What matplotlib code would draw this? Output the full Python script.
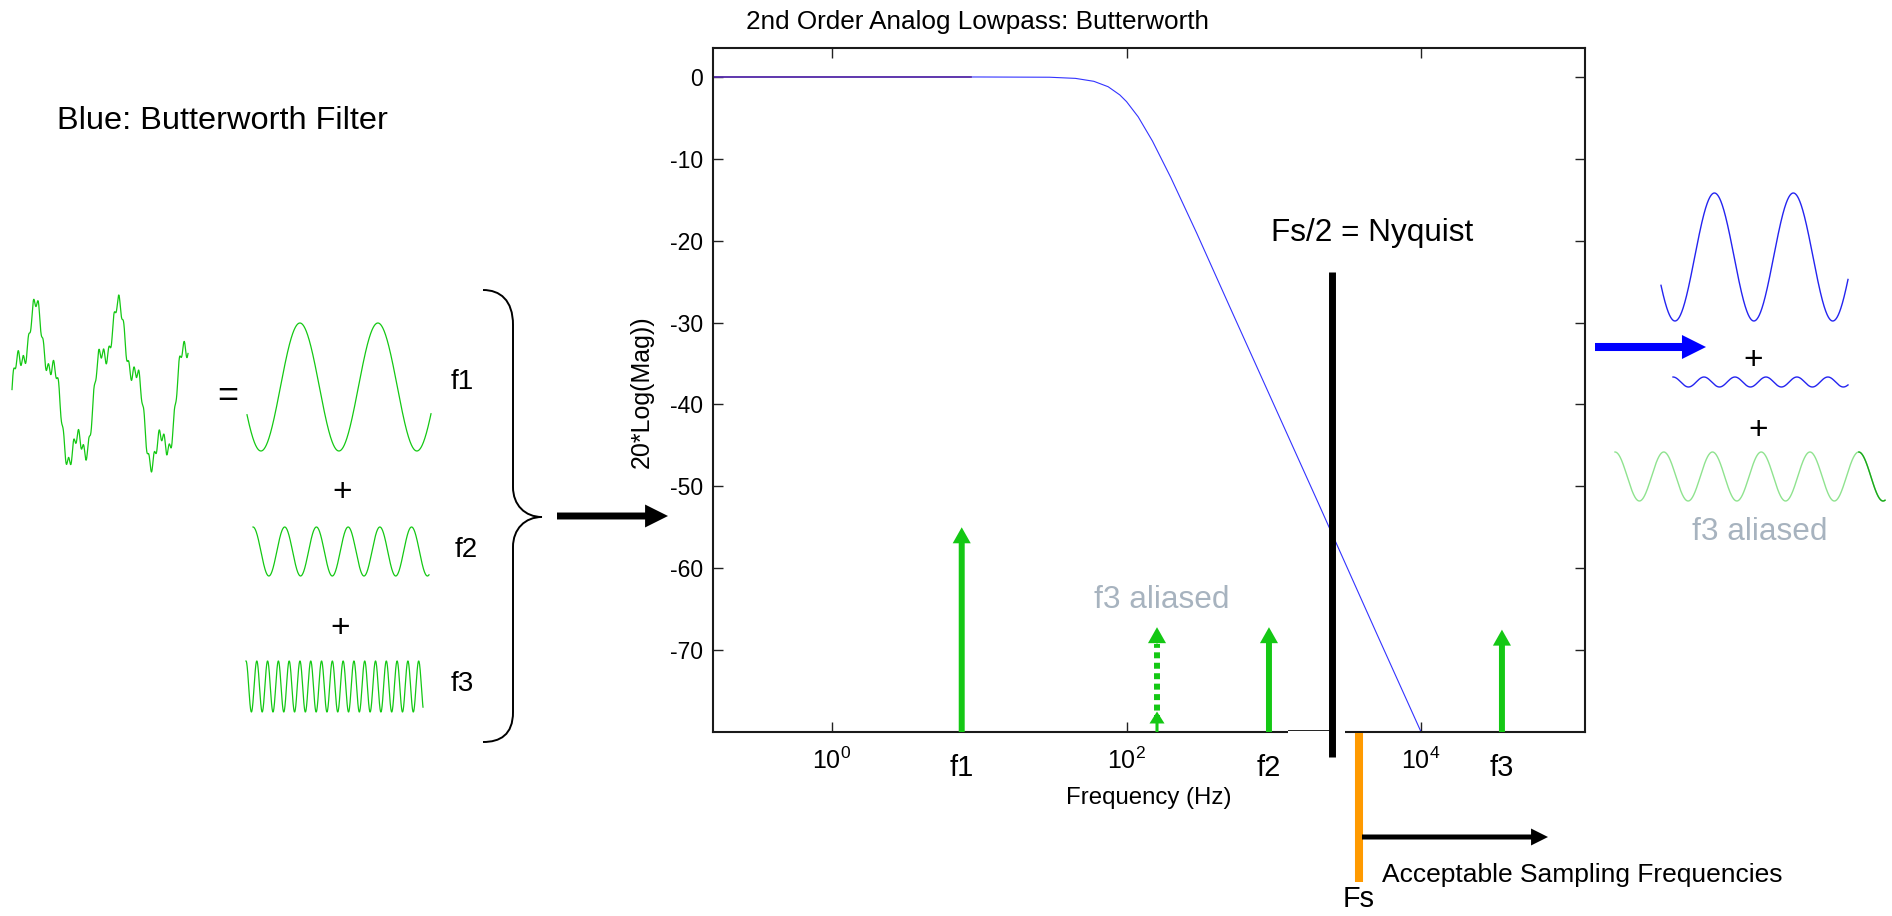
import numpy as np
import matplotlib
matplotlib.use("Agg")
import matplotlib.pyplot as plt
from matplotlib.patches import FancyArrowPatch, PathPatch
from matplotlib.path import Path
from matplotlib.ticker import FixedLocator, FixedFormatter, NullLocator

plt.rcParams['font.family'] = ['Liberation Sans', 'DejaVu Sans']
plt.rcParams['mathtext.default'] = 'regular'
plt.rcParams['axes.unicode_minus'] = False

W, H, DPI = 1892, 916, 100

# ---- magnitude response of the 2nd order analog Butterworth lowpass ----
freq_hz = [0.1556, 10, 30, 45, 60, 75, 90, 100, 120, 150, 200, 300, 500,
           1000, 2000, 5000, 10000]
mag_db = [0, 0, -0.03, -0.17, -0.53, -1.19, -2.19, -3.01, -4.87, -7.83,
          -12.3, -19.1, -28.0, -40.0, -52.0, -68.0, -80.0]
# passband stretch drawn twice (shows as purple)
overlap_hz = [0.1556, 8.8]
overlap_db = [0, 0]

# ---- spectral lines ----
tone_names = ['f1', 'f2', 'f3']
tone_hz = [7.6, 927, 35400]
tone_top_db = [-55.0, -67.2, -67.5]
alias_hz = 161
alias_top_db = -67.2
nyquist_hz = 2480
fs_hz = 3790
floor_db = -80

x_ticks = [1, 100, 10000]
x_tick_labels = [r'$10^{0}$', r'$10^{2}$', r'$10^{4}$']
y_ticks = [-70, -60, -50, -40, -30, -20, -10, 0]

# ---- time-domain sketches: cycles shown and starting phase (rad) ----
f1_cycles, f1_phase = 2.36, 3.59
f2_cycles, f2_phase = 5.55, np.pi / 2
f3_cycles, f3_phase = 16.4, np.pi / 2
mix_cycles = [2.15, 8.5, 35.0]
mix_amps = [1.0, 0.30, 0.09]
mix_phases = [-0.19, 0.6, 0.0]
out_f1_cycles, out_f1_phase = 2.37, 3.60
out_f2_cycles, out_f2_phase = 5.65, np.pi / 2
alias_cycles, alias_phase = 5.54, np.pi / 2
alias_dark_from = 5.0  # cycle where the darker trace begins

GREEN = '#14c814'
LIGHT_GREEN = '#8fe38f'
BLUE = '#2424f0'
GREY = '#a7b3bf'
ORANGE = '#ff9a00'

fig = plt.figure(figsize=(W / DPI, H / DPI), dpi=DPI)


def px_axes(x0, x1, y0, y1):
    a = fig.add_axes([x0 / W, 1 - y1 / H, (x1 - x0) / W, (y1 - y0) / H])
    a.axis('off')
    return a


def sine_axes(box, cycles, phase, color, lw=1.0):
    a = px_axes(*box)
    t = np.linspace(0, 1, 1200)
    a.plot(t, np.sin(2 * np.pi * cycles * t + phase), color=color, lw=lw,
           clip_on=False)
    a.set_xlim(0, 1)
    a.set_ylim(-1, 1)
    return a, t


# ---------------- main Bode axes ----------------
ax = fig.add_axes([713 / W, 1 - 732 / H, 872 / W, 684 / H])
ax.set_xscale('log')
ax.set_xlim(0.1556, 1.297e5)
ax.set_ylim(-80, 3.54)
ax.plot(freq_hz, mag_db, color='#3333ff', lw=0.8, zorder=2)
ax.plot(overlap_hz, overlap_db, color='#5a2ca0', lw=1.2, zorder=2.1)

ax.xaxis.set_major_locator(FixedLocator(x_ticks))
ax.xaxis.set_major_formatter(FixedFormatter(x_tick_labels))
ax.xaxis.set_minor_locator(NullLocator())
ax.set_yticks(y_ticks)
ax.tick_params(direction='in', length=7.5, width=1.0, top=True, right=True,
               colors='#222222', labelcolor='black')
ax.tick_params(axis='x', labelsize=18, pad=11)
ax.tick_params(axis='y', labelsize=16.5, pad=7)
for s in ax.spines.values():
    s.set_linewidth(1.5)
    s.set_color('#1a1a1a')

xfr = ax.get_xaxis_transform()

# break in the bottom frame around the Nyquist marker
ax.plot([0.6594, 0.7248], [0, 0], transform=ax.transAxes, color='white',
        lw=3, clip_on=False, zorder=2.6, solid_capstyle='butt')
ax.plot([0.6594, 0.7064], [0.003, 0.003], transform=ax.transAxes,
        color='#222222', lw=0.7, clip_on=False, zorder=2.7)

# spectral lines
for name, f, top in zip(tone_names, tone_hz, tone_top_db):
    ax.add_patch(FancyArrowPatch(
        (f, floor_db), (f, top),
        arrowstyle='simple,tail_width=4.3,head_width=13,head_length=11.5',
        mutation_scale=1, color=GREEN, lw=0, shrinkA=0, shrinkB=0,
        clip_on=False, zorder=3))
    ax.text(f, -0.052, name, transform=xfr, ha='center', va='center',
            fontsize=21)

# aliased component: dotted shaft with heads at both ends
ax.plot([alias_hz, alias_hz], [-78.6, -69.2], color=GREEN, lw=4.3,
        linestyle=(0, (1.0, 0.75)), dash_capstyle='butt', zorder=3)
ax.add_patch(FancyArrowPatch(
    (alias_hz, -69.4), (alias_hz, alias_top_db),
    arrowstyle='simple,tail_width=0.5,head_width=13,head_length=11.5',
    mutation_scale=1, color=GREEN, lw=0, shrinkA=0, shrinkB=0, zorder=3))
ax.add_patch(FancyArrowPatch(
    (alias_hz, floor_db), (alias_hz, -77.5),
    arrowstyle='simple,tail_width=2.2,head_width=10.8,head_length=8.6',
    mutation_scale=1, color=GREEN, lw=0, shrinkA=0, shrinkB=0,
    clip_on=False, zorder=3))

# Nyquist and sampling frequency markers
ax.plot([nyquist_hz, nyquist_hz], [-23.8, -83.0], color='black', lw=5,
        solid_capstyle='butt', clip_on=False, zorder=4)
ax.plot([fs_hz, fs_hz], [-80.15, -98.3], color=ORANGE, lw=5.8,
        solid_capstyle='butt', clip_on=False, zorder=4)

# ---------------- overlay for annotations ----------------
ov = fig.add_axes([0, 0, 1, 1], zorder=5)
ov.set_xlim(0, W)
ov.set_ylim(H, 0)
ov.axis('off')
ov.patch.set_visible(False)

ov.text(746, 22, '2nd Order Analog Lowpass: Butterworth', fontsize=18.8,
        ha='left', va='center')
ov.text(1149, 798, 'Frequency (Hz)', fontsize=17.3, ha='center', va='center')
ov.text(642, 392, '20*Log(Mag))', fontsize=18, ha='center', va='center',
        rotation=90)
ov.text(57, 121, 'Blue: Butterworth Filter', fontsize=23.4, ha='left',
        va='center')
ov.text(1372, 233, 'Fs/2 = Nyquist', fontsize=22.7, ha='center',
        va='center')
ov.text(1359, 899, 'Fs', fontsize=20.7, ha='center', va='center')
ov.text(1382, 875, 'Acceptable Sampling Frequencies', fontsize=19,
        ha='left', va='center')
ov.text(1162, 600, 'f3 aliased', fontsize=22.7, ha='center', va='center',
        color=GREY)
ov.text(1760, 532, 'f3 aliased', fontsize=22.7, ha='center', va='center',
        color=GREY)

for s, x, y, fs in [('=', 228, 397, 26), ('f1', 462, 382, 20),
                    ('+', 342, 492, 24), ('f2', 466, 550, 20),
                    ('+', 340, 629, 24), ('f3', 462, 684, 20),
                    ('+', 1753, 360, 24), ('+', 1758, 430, 24)]:
    ov.text(x, y, s, fontsize=fs, ha='center', va='center')

# curly brace gathering the three components
brace = Path(
    [(483, 290), (500, 290), (513, 300), (513, 325),
     (513, 487),
     (513, 505), (525, 517), (542, 517),
     (525, 517), (513, 529), (513, 547),
     (513, 712),
     (513, 735), (500, 742), (483, 742)],
    [Path.MOVETO, Path.CURVE4, Path.CURVE4, Path.CURVE4,
     Path.LINETO,
     Path.CURVE4, Path.CURVE4, Path.CURVE4,
     Path.CURVE4, Path.CURVE4, Path.CURVE4,
     Path.LINETO,
     Path.CURVE4, Path.CURVE4, Path.CURVE4])
ov.add_patch(PathPatch(brace, facecolor='none', edgecolor='black', lw=1.4))

ov.add_patch(FancyArrowPatch(
    (557, 516), (668, 516),
    arrowstyle='simple,tail_width=5,head_width=16.5,head_length=16.5',
    mutation_scale=1, color='black', lw=0, shrinkA=0, shrinkB=0))
ov.add_patch(FancyArrowPatch(
    (1595, 347), (1706, 347),
    arrowstyle='simple,tail_width=5.8,head_width=17.3,head_length=17.3',
    mutation_scale=1, color='#0000ff', lw=0, shrinkA=0, shrinkB=0))
ov.add_patch(FancyArrowPatch(
    (1362, 837), (1548, 837),
    arrowstyle='simple,tail_width=3.6,head_width=12.2,head_length=12.2',
    mutation_scale=1, color='black', lw=0, shrinkA=0, shrinkB=0))

# ---------------- time-domain sketches ----------------
mix_ax = px_axes(12, 188, 295, 472)
tm = np.linspace(0, 1, 2400)
mix = sum(a * np.sin(2 * np.pi * c * tm + p)
          for c, a, p in zip(mix_cycles, mix_amps, mix_phases))
mix_ax.plot(tm, mix, color=GREEN, lw=0.9, clip_on=False)
mix_ax.set_xlim(0, 1)
mix_ax.set_ylim(mix.min(), mix.max())

sine_axes((247, 431, 323, 451), f1_cycles, f1_phase, GREEN, 0.9)
sine_axes((253, 429, 527, 576), f2_cycles, f2_phase, GREEN, 0.9)
sine_axes((246, 423, 661, 712), f3_cycles, f3_phase, GREEN, 0.9)

sine_axes((1661, 1848, 193, 321), out_f1_cycles, out_f1_phase, BLUE, 1.0)
sine_axes((1673, 1848, 377, 387), out_f2_cycles, out_f2_phase, BLUE, 1.0)
al_ax, ta = sine_axes((1615, 1885, 452, 501), alias_cycles, alias_phase,
                      LIGHT_GREEN, 1.0)
seg = ta >= alias_dark_from / alias_cycles
al_ax.plot(ta[seg], np.sin(2 * np.pi * alias_cycles * ta[seg] + alias_phase),
           color='#1aa81a', lw=1.0, clip_on=False)

fig.savefig('out.png', dpi=DPI, facecolor='white')
